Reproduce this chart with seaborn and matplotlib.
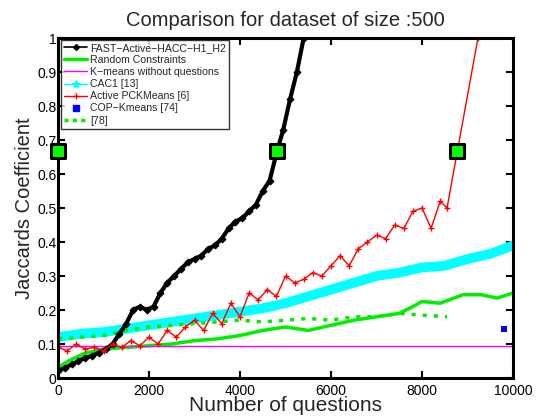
import matplotlib
matplotlib.use("Agg")
import matplotlib.pyplot as plt
import seaborn as sns
import pandas as pd
from matplotlib.lines import Line2D

# ---- data ----
fast_x = [0, 150, 300, 450, 600, 750, 900, 1050, 1200, 1350, 1500, 1650, 1800, 1950, 2100,
          2250, 2400, 2550, 2700, 2850, 3000, 3150, 3300, 3450, 3600, 3750, 3900, 4050, 4200,
          4350, 4500, 4650, 4813, 4950, 5100, 5250, 5400]
fast_y = [0.02, 0.03, 0.04, 0.05, 0.06, 0.065, 0.075, 0.085, 0.10, 0.13, 0.16, 0.20, 0.21, 0.20,
          0.21, 0.25, 0.28, 0.30, 0.32, 0.34, 0.35, 0.36, 0.38, 0.39, 0.41, 0.44, 0.46, 0.47,
          0.49, 0.51, 0.55, 0.58, 0.667, 0.73, 0.82, 0.90, 1.0]

rand_x = [0, 100, 300, 600, 1000, 1500, 2000, 2500, 3000, 3500, 4000, 4500, 5000, 5500, 6000,
          6500, 7000, 7500, 7800, 8000, 8400, 8900, 9300, 9650, 10000]
rand_y = [0.02, 0.04, 0.055, 0.073, 0.085, 0.09, 0.095, 0.10, 0.11, 0.115, 0.125, 0.14, 0.15,
          0.14, 0.155, 0.17, 0.18, 0.19, 0.21, 0.225, 0.22, 0.245, 0.245, 0.235, 0.25]

kmeans_x = [0, 10000]
kmeans_y = [0.093, 0.093]

cac_x = [0, 500, 1000, 1500, 2000, 2500, 3000, 3500, 4000, 4500, 5000, 5500, 6000, 6500, 7000,
         7500, 8000, 8500, 9000, 9500, 10000]
cac_y = [0.12, 0.13, 0.135, 0.145, 0.155, 0.165, 0.175, 0.185, 0.195, 0.205, 0.22, 0.24, 0.26,
         0.28, 0.30, 0.31, 0.325, 0.33, 0.35, 0.365, 0.39]

pck_x = [0, 200, 400, 600, 800, 1000, 1200, 1400, 1600, 1800, 2000, 2200, 2400, 2600, 2800,
         3000, 3200, 3400, 3600, 3800, 4000, 4200, 4400, 4600, 4800, 5000, 5200, 5400, 5600,
         5800, 6000, 6200, 6400, 6600, 6800, 7000, 7200, 7400, 7600, 7800, 8000, 8200, 8400,
         8550, 9230]
pck_y = [0.09, 0.08, 0.10, 0.085, 0.09, 0.08, 0.10, 0.09, 0.11, 0.095, 0.12, 0.10, 0.14, 0.12,
         0.15, 0.17, 0.14, 0.19, 0.16, 0.22, 0.18, 0.25, 0.23, 0.26, 0.24, 0.30, 0.28, 0.29,
         0.31, 0.30, 0.33, 0.36, 0.33, 0.38, 0.40, 0.42, 0.41, 0.45, 0.44, 0.49, 0.50, 0.44,
         0.52, 0.50, 1.0]

cop_x = [9800]
cop_y = [0.144]

ref78_x = [0, 500, 1000, 1500, 2000, 2500, 3000, 3500, 4000, 4500, 5000, 5500, 6000, 6500,
           7000, 7500, 8000, 8550]
ref78_y = [0.115, 0.12, 0.125, 0.14, 0.15, 0.155, 0.16, 0.165, 0.17, 0.165, 0.17, 0.175, 0.17,
           0.18, 0.18, 0.19, 0.185, 0.18]

mark_x = [0, 4813, 8770]
mark_y = [0.667, 0.667, 0.667]

labels = ["FAST\u2212Active\u2212HACC\u2212H1_H2", "Random Constraints",
          "K\u2212means without questions", "CAC1 [13]", "Active PCKMeans [6]",
          "COP\u2212Kmeans [74]", "[78]"]
title = "Comparison for dataset of size :500"
xlabel = "Number of questions"
ylabel = "Jaccards Coefficient"

# ---- plot ----
sns.set_style("white")
plt.rcParams['font.family'] = ['Liberation Sans', 'DejaVu Sans']

fig = plt.figure(figsize=(5.39, 4.17), dpi=100)
ax = fig.add_axes([58 / 539, 1 - 378 / 417, 455 / 539, 340 / 417])

kw = dict(ax=ax, estimator=None, sort=False, legend=False)
sns.lineplot(x=cac_x, y=cac_y, color="#00ffff", lw=7, marker="*", ms=5, mec="#00ffff", **kw)
sns.lineplot(x=ref78_x, y=ref78_y, color="#00ee00", lw=2.5, linestyle=(0, (1.2, 2.0)), **kw)
sns.lineplot(x=rand_x, y=rand_y, color="#00ee00", lw=2.5, **kw)
sns.lineplot(x=kmeans_x, y=kmeans_y, color="#ff00ff", lw=1, **kw)
sns.lineplot(x=fast_x, y=fast_y, color="black", lw=3, marker="D", ms=3.5, mec="black", **kw)
sns.lineplot(x=pck_x, y=pck_y, color="red", lw=1, marker="+", ms=5, mew=1, mec="red", **kw)
sns.scatterplot(x=cop_x, y=cop_y, ax=ax, color="#0000ff", marker="s", s=25, linewidth=0, zorder=5)
sns.scatterplot(x=mark_x, y=mark_y, ax=ax, color="#00ff00", marker="s", s=95,
                edgecolor="black", linewidth=2.2, zorder=6, clip_on=False)

ax.set_xlim(0, 10000)
ax.set_ylim(0, 1)
ax.set_xticks([0, 2000, 4000, 6000, 8000, 10000])
ax.set_yticks([i / 10 for i in range(11)])
ax.set_yticklabels(["0", "0.1", "0.2", "0.3", "0.4", "0.5", "0.6", "0.7", "0.8", "0.9", "1"])
ax.tick_params(direction="in", length=5, width=1.5, labelsize=10, top=True, right=True,
               bottom=True, left=True, colors="black")
ax.tick_params(axis="x", pad=4)
ax.tick_params(axis="y", pad=1)
for s in ax.spines.values():
    s.set_linewidth(2.2)
    s.set_color("black")

ax.set_title(title, fontsize=14.5, pad=9)
ax.set_xlabel(xlabel, fontsize=15, labelpad=-1)
ax.set_ylabel(ylabel, fontsize=14.5, labelpad=2)

handles = [
    Line2D([], [], color="black", lw=1.2, marker="D", ms=3),
    Line2D([], [], color="#00ee00", lw=2.5),
    Line2D([], [], color="#ff00ff", lw=1),
    Line2D([], [], color="#00ffff", lw=1, marker="*", ms=6),
    Line2D([], [], color="red", lw=1, marker="+", ms=4),
    Line2D([], [], color="#0000ff", lw=0, marker="s", ms=5),
    Line2D([], [], color="#00ee00", lw=2.5, linestyle=(0, (1.2, 1.2))),
]
leg = ax.legend(handles, labels, loc="upper left", bbox_to_anchor=(0.006, 0.995),
                borderaxespad=0, fontsize=7.6, frameon=True, fancybox=False,
                handlelength=2.2, handletextpad=0.3, labelspacing=0.2, borderpad=0.3)
leg.get_frame().set_edgecolor("black")
leg.get_frame().set_linewidth(1)

fig.savefig("out.png", dpi=100)
